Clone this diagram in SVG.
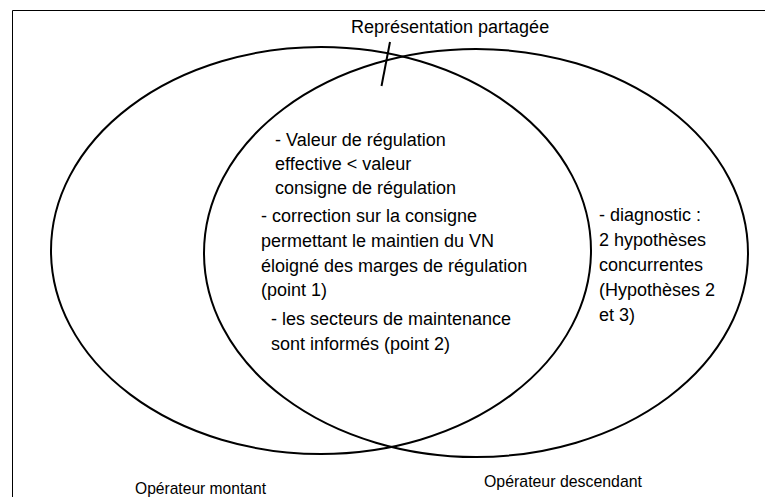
<svg xmlns="http://www.w3.org/2000/svg" width="768" height="497" viewBox="0 0 768 497">
<style>
.t{font-family:"Liberation Sans",Arial,sans-serif;font-size:18px;fill:#000}
.s{font-size:17px}
.e{fill:none;stroke:#000;stroke-width:2}
</style>
<rect width="768" height="497" fill="#fff"/>
<g id="frame"><path d="M12.5,497 V10.5 H765" fill="none" stroke="#000" stroke-width="1"/></g>
<g id="operateur-montant">
<ellipse class="e" cx="321" cy="250.5" rx="270" ry="203.5"/>
<text class="t s" x="135" y="494" textLength="131" lengthAdjust="spacingAndGlyphs">Opérateur montant</text>
</g>
<g id="operateur-descendant">
<ellipse class="e" cx="476" cy="253" rx="272" ry="204"/>
<text class="t s" x="484" y="487" textLength="158" lengthAdjust="spacingAndGlyphs">Opérateur descendant</text>
</g>
<g id="representation-partagee">
<text class="t" x="351" y="33">Représentation partagée</text>
<g id="shared-text">
<text class="t" x="275" y="146">- Valeur de régulation</text>
<text class="t" x="275" y="170">effective &lt; valeur</text>
<text class="t" x="275" y="194">consigne de régulation</text>
<text class="t" x="261" y="222">- correction sur la consigne</text>
<text class="t" x="261" y="247">permettant le maintien du VN</text>
<text class="t" x="261" y="272">éloigné des marges de régulation</text>
<text class="t" x="261" y="296">(point 1)</text>
<text class="t" x="271" y="325">- les secteurs de maintenance</text>
<text class="t" x="271" y="350">sont informés (point 2)</text>
</g>
</g>
<g id="diagnostic">
<text class="t" x="599" y="221">- diagnostic :</text>
<text class="t" x="599" y="246">2 hypothèses</text>
<text class="t" x="599" y="271">concurrentes</text>
<text class="t" x="599" y="296">(Hypothèses 2</text>
<text class="t" x="599" y="321">et 3)</text>
</g>
<g id="connectors">
<line x1="390" y1="42" x2="381.5" y2="86" stroke="#000" stroke-width="2"/>
</g>
</svg>
